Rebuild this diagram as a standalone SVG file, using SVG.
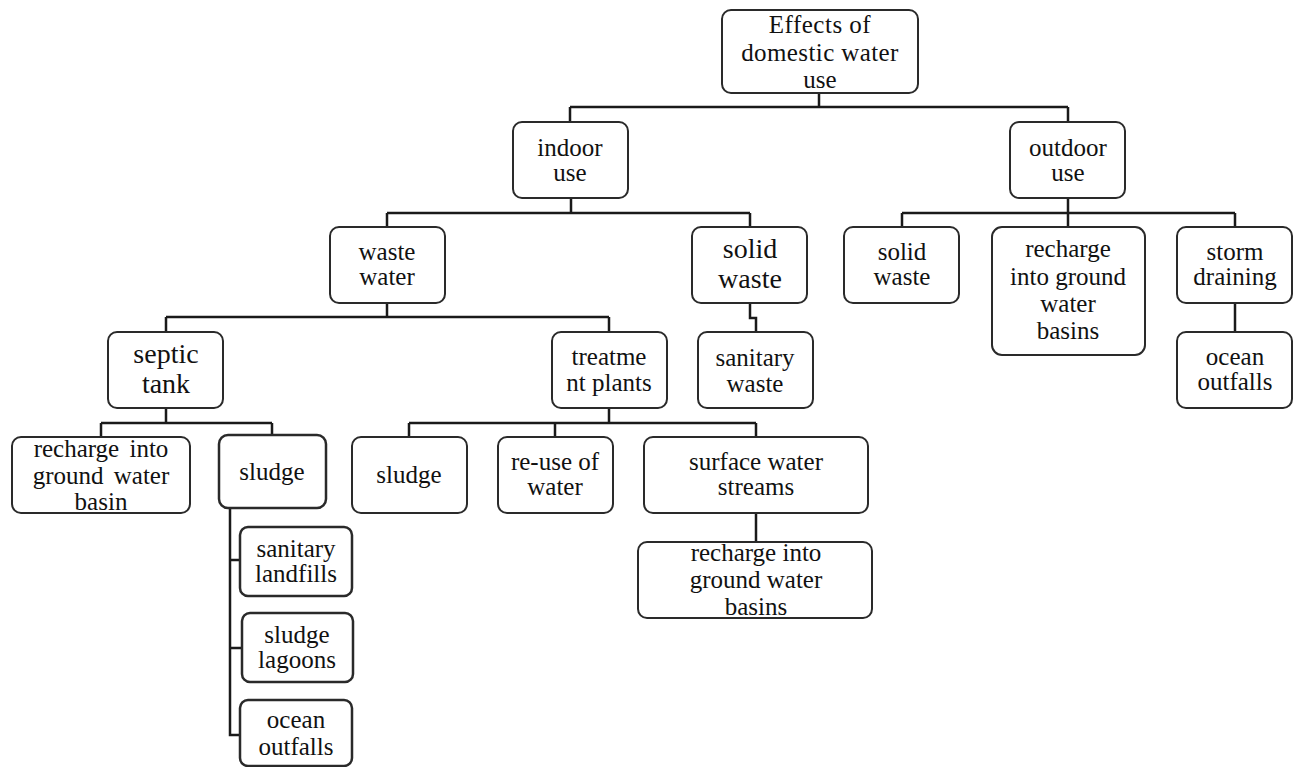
<svg xmlns="http://www.w3.org/2000/svg" width="1296" height="767" viewBox="0 0 1296 767">
<style>
.box{fill:#fff;stroke:#2a2a2a;stroke-width:2}
text{font-family:'Liberation Serif',serif;font-size:25px;fill:#111;text-anchor:middle}
.big{font-size:28px}
.c{fill:none;stroke:#1a1a1a;stroke-width:2.5}
</style>
<rect width="1296" height="767" fill="#fff"/>
<g id="connectors">
<path class="c" d="M819 93V107M570 107H1068M570 107V122M1068 107V122"/>
<path class="c" d="M571 198V213M387 213H750M387 213V227M750 213V227"/>
<path class="c" d="M1068 198V213M902 213H1235M902 213V227M1068 213V227M1235 213V227"/>
<path class="c" d="M1235 303V332"/>
<path class="c" d="M750 303V318H756V332"/>
<path class="c" d="M387 303V317M166 317H609M166 317V332M609 317V332"/>
<path class="c" d="M166 408V423M101 423H272M101 423V437M272 423V435"/>
<path class="c" d="M609 408V423M409 423H756M409 423V437M555 423V437M756 423V437"/>
<path class="c" d="M756 513V542"/>
<path class="c" d="M230 508V735H240M230 560H240M230 648H242"/>
</g>
<g font-family="Liberation Serif, serif">
<g id="root"><rect class="box" x="722" y="10" width="196" height="83" rx="9"/><text x="820" y="33" letter-spacing="0.5">Effects of</text><text x="820" y="61" letter-spacing="0.4">domestic water</text><text x="820" y="88">use</text></g>
<g id="indoor"><rect class="box" x="513" y="122" width="115" height="76" rx="9"/><text x="570" y="156">indoor</text><text x="570" y="181">use</text></g>
<g id="outdoor"><rect class="box" x="1010" y="122" width="115" height="76" rx="9"/><text x="1068" y="156">outdoor</text><text x="1068" y="181">use</text></g>
<g id="wastewater"><rect class="box" x="330" y="227" width="115" height="76" rx="9"/><text x="387" y="260">waste</text><text x="387" y="285">water</text></g>
<g id="solidwaste-in"><rect class="box" x="692" y="227" width="115" height="76" rx="9"/><text class="big" x="750" y="258">solid</text><text class="big" x="750" y="288">waste</text></g>
<g id="sanitarywaste"><rect class="box" x="698" y="332" width="115" height="76" rx="9"/><text x="755" y="366">sanitary</text><text x="755" y="392">waste</text></g>
<g id="septic"><rect class="box" x="108" y="332" width="115" height="76" rx="9"/><text class="big" x="166" y="363">septic</text><text class="big" x="166" y="393">tank</text></g>
<g id="treatment"><rect class="box" x="552" y="332" width="115" height="76" rx="9"/><text x="609" y="365">treatme</text><text x="609" y="391">nt plants</text></g>
<g id="recharge-septic"><rect class="box" x="12" y="437" width="178" height="76" rx="9"/><text x="101" y="457" word-spacing="4">recharge into</text><text x="101" y="484" word-spacing="4">ground water</text><text x="101" y="510">basin</text></g>
<g id="sludge-septic"><rect class="box" x="219" y="435" width="107" height="73" rx="9" style="stroke-width:2.5"/><text x="272" y="480">sludge</text></g>
<g id="landfills"><rect class="box" x="240" y="527" width="112" height="69" rx="8" style="stroke-width:2.5"/><text x="296" y="557">sanitary</text><text x="296" y="582">landfills</text></g>
<g id="lagoons"><rect class="box" x="242" y="613" width="111" height="69" rx="8" style="stroke-width:2.5"/><text x="297" y="643">sludge</text><text x="297" y="668">lagoons</text></g>
<g id="outfalls-left"><rect class="box" x="240" y="700" width="112" height="66" rx="8" style="stroke-width:2.5"/><text x="296" y="728">ocean</text><text x="296" y="755">outfalls</text></g>
<g id="sludge-treat"><rect class="box" x="352" y="437" width="115" height="76" rx="9"/><text x="409" y="483">sludge</text></g>
<g id="reuse"><rect class="box" x="498" y="437" width="115" height="76" rx="9"/><text x="555" y="470">re-use of</text><text x="555" y="495">water</text></g>
<g id="surface"><rect class="box" x="644" y="437" width="224" height="76" rx="9"/><text x="756" y="470">surface water</text><text x="756" y="495">streams</text></g>
<g id="recharge-treat"><rect class="box" x="638" y="542" width="234" height="76" rx="9"/><text x="756" y="561">recharge into</text><text x="756" y="588">ground water</text><text x="756" y="615">basins</text></g>
<g id="solidwaste-out"><rect class="box" x="844" y="227" width="115" height="76" rx="9"/><text x="902" y="260">solid</text><text x="902" y="285">waste</text></g>
<g id="recharge-out"><rect class="box" x="992" y="227" width="153" height="128" rx="10"/><text x="1068" y="257">recharge</text><text x="1068" y="285">into ground</text><text x="1068" y="312">water</text><text x="1068" y="339">basins</text></g>
<g id="storm"><rect class="box" x="1177" y="227" width="115" height="76" rx="9"/><text x="1235" y="260">storm</text><text x="1235" y="285">draining</text></g>
<g id="outfalls-right"><rect class="box" x="1177" y="332" width="115" height="76" rx="9"/><text x="1235" y="365">ocean</text><text x="1235" y="390">outfalls</text></g>
</g>
</svg>
